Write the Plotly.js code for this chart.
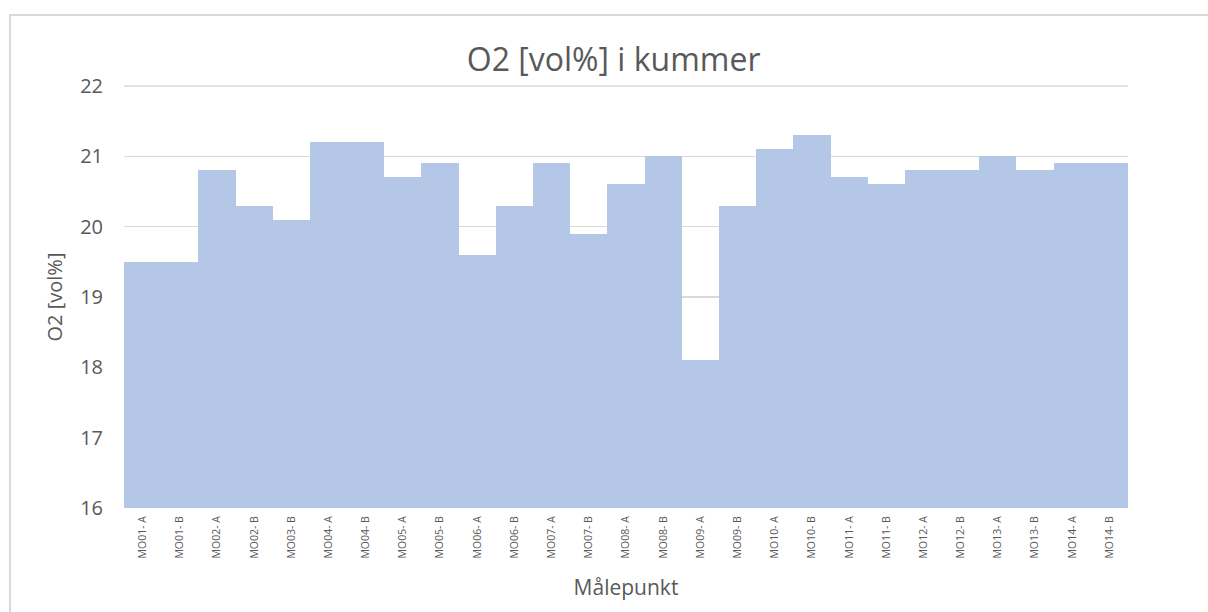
<!DOCTYPE html>
<html>
<head>
<meta charset="utf-8">
<script src="https://cdn.plot.ly/plotly-3.0.1.min.js"></script>
<style>
html,body{margin:0;padding:0;background:#fff;overflow:hidden;}
#chart{width:1208px;height:612px;}
</style>
</head>
<body>
<div id="chart"></div>
<script>
const categories = ["MO01- A","MO01- B","MO02- A","MO02- B","MO03- B","MO04- A","MO04- B",
  "MO05- A","MO05- B","MO06- A","MO06- B","MO07- A","MO07- B","MO08- A","MO08- B",
  "MO09- A","MO09- B","MO10- A","MO10- B","MO11- A","MO11- B","MO12- A","MO12- B",
  "MO13- A","MO13- B","MO14- A","MO14- B"];
const o2Values = [19.5,19.5,20.8,20.3,20.1,21.2,21.2,
  20.7,20.9,19.6,20.3,20.9,19.9,20.6,21.0,
  18.1,20.3,21.1,21.3,20.7,20.6,20.8,20.8,
  21.0,20.8,20.9,20.9];
const yTicks = [16,17,18,19,20,21,22];

const FONT = "'Open Sans', 'Noto Sans', sans-serif";
const trace = {
  type: 'bar',
  x: categories,
  y: o2Values,
  marker: {color: '#B4C7E7', line: {width: 0}},
  hoverinfo: 'x+y'
};
// figure border geometry (plot area: x 124-1128, y 86-508)
const pw = 1004, ph = 422;
const layout = {
  width: 1208, height: 612,
  margin: {l: 124, r: 80, t: 86, b: 104, pad: 0},
  paper_bgcolor: '#ffffff', plot_bgcolor: '#ffffff',
  bargap: 0,
  showlegend: false,
  title: {text: 'O2 [vol%] i kummer', x: 0.508, xanchor: 'center', y: 0.902, yanchor: 'middle', yref: 'container',
    font: {family: FONT, size: 32, color: '#595959'}},
  xaxis: {
    type: 'category',
    tickangle: -90,
    tickfont: {family: FONT, size: 10.5, color: '#595959'},
    showgrid: false, zeroline: false, showline: false,
    ticks: '', ticklabelstandoff: 5,
    title: {text: 'Målepunkt', font: {family: FONT, size: 21, color: '#595959'}, standoff: 22}
  },
  yaxis: {
    range: [16, 22],
    tickvals: yTicks,
    ticktext: yTicks.map(String),
    tickfont: {family: FONT, size: 20, color: '#595959'},
    showgrid: true, gridcolor: '#d9d9d9', gridwidth: 1.5,
    zeroline: false, showline: false, ticks: '',
    ticklabelstandoff: 20,
    title: {text: 'O2 [vol%]', font: {family: FONT, size: 20, color: '#595959'}, standoff: 12}
  },
  shapes: [{
    type: 'rect', xref: 'paper', yref: 'paper',
    x0: (10 - 124) / pw, x1: (1220 - 124) / pw,
    y0: (508 - 620) / ph, y1: (508 - 15) / ph,
    line: {color: '#d9d9d9', width: 2}, fillcolor: 'rgba(0,0,0,0)', layer: 'below'
  }, {
    type: 'line', xref: 'paper', yref: 'paper', x0: 0, x1: 1, y0: 1, y1: 1,
    line: {color: '#d9d9d9', width: 1.5}, layer: 'below'
  }]
};
Plotly.newPlot('chart', [trace], layout, {displayModeBar: false, staticPlot: true});
</script>
</body>
</html>
